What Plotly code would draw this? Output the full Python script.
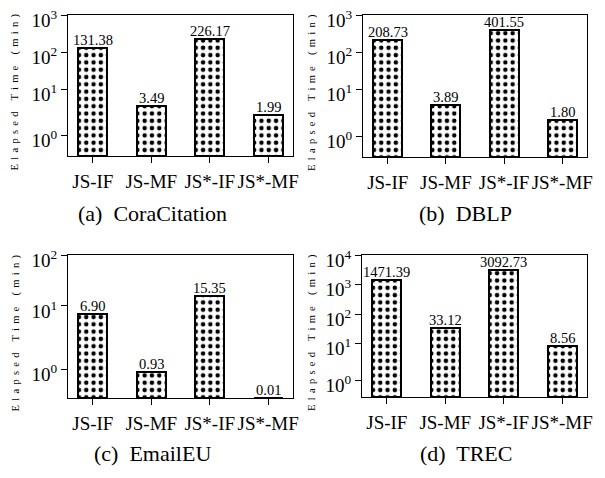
import numpy as np
import plotly.graph_objects as go
from plotly.subplots import make_subplots

# ---------------- data ----------------
methods = ["JS-IF", "JS-MF", "JS*-IF", "JS*-MF"]
cora_citation = [131.38, 3.49, 226.17, 1.99]
dblp = [208.73, 3.89, 401.55, 1.80]
email_eu = [6.90, 0.93, 15.35, 0.01]
trec = [1471.39, 33.12, 3092.73, 8.56]
panel_titles = ["(a)\u00a0 CoraCitation", "(b)\u00a0 DBLP", "(c)\u00a0 EmailEU", "(d)\u00a0 TREC"]
y_top_exponents = [3, 3, 2, 4]
y_title = "Elapsed Time (min)"

# symmetric-log scale (matplotlib 'symlog', linthresh=2, linscale=1)
LINTHRESH = 2.0
LINSCALE = 1.0


def symlog(v):
    v = np.asarray(v, dtype=float)
    adj = LINSCALE / (1.0 - 1.0 / 10.0)
    out = np.where(
        np.abs(v) <= LINTHRESH,
        v * adj,
        np.sign(v) * LINTHRESH * (adj + np.log10(np.maximum(np.abs(v), 1e-12) / LINTHRESH)),
    )
    return out


SERIF = "Liberation Serif"
PAGE_W, PAGE_H = 605, 478
OFF = 8  # default page body margin
W, H = PAGE_W - OFF, PAGE_H - OFF


def px(x):
    return (x - OFF) / W


def py(y):
    return 1 - (y - OFF) / H


fig = make_subplots(rows=2, cols=2)

panels = [cora_citation, dblp, email_eu, trec]
# plot-area boxes in page pixels: (left, right, top, bottom)
boxes = [(68, 293, 15, 156), (363, 587, 15, 157), (68, 293, 255, 398), (362, 587, 255, 397)]
ytitle_x = [15, 312, 15, 312]
caption_xy = [(152, 213), (465, 213), (152, 453), (466, 453)]

for i, vals in enumerate(panels):
    r, c = i // 2 + 1, i % 2 + 1
    ys = symlog(vals)
    fig.add_trace(
        go.Bar(
            x=methods,
            y=ys,
            width=0.5,
            cliponaxis=False,
            marker=dict(
                color="white",
                line=dict(color="black", width=2),
                pattern=dict(shape=".", fgcolor="black", bgcolor="white",
                             size=7.3, solidity=0.3, fillmode="replace"),
            ),
            showlegend=False,
            hoverinfo="skip",
        ),
        row=r, col=c,
    )
    ax_suffix = "" if i == 0 else str(i + 1)
    # value labels above bars
    for m, v, yv in zip(methods, vals, ys):
        fig.add_annotation(
            x=m, y=float(yv), xref="x" + ax_suffix, yref="y" + ax_suffix,
            text=f"{v:.2f}", showarrow=False,
            xanchor="center", yanchor="bottom", yshift=-2,
            font=dict(family=SERIF, size=14.5, color="black"),
        )
    L, R, T, B = boxes[i]
    top = y_top_exponents[i]
    fig.layout["xaxis" + ax_suffix].update(
        domain=[px(L), px(R)],
        range=[-0.425, 3.425],
        tickangle=0,
        automargin=False,
        showline=True, mirror=True, linecolor="black", linewidth=1.3,
        ticks="outside", ticklen=6, tickwidth=1.2, tickcolor="black",
        ticklabelstandoff=2,
        showgrid=False, zeroline=False,
        tickfont=dict(family=SERIF, size=19, color="black"),
    )
    tickv = [10.0 ** k for k in range(0, top + 1)]
    fig.layout["yaxis" + ax_suffix].update(
        domain=[py(B), py(T)],
        range=[0, float(symlog(10.0 ** top))],
        automargin=False,
        tickmode="array",
        tickvals=list(symlog(tickv)),
        ticktext=[f"10<sup>{k}</sup>" for k in range(0, top + 1)],
        ticklabeloverflow="allow",
        ticklabelshift=5,
        showline=True, mirror=True, linecolor="black", linewidth=1.3,
        ticks="outside", ticklen=6, tickwidth=1.2, tickcolor="black",
        showgrid=False, zeroline=False,
        tickfont=dict(family=SERIF, size=19, color="black"),
    )
    # y-axis title
    fig.add_annotation(
        x=px(ytitle_x[i]), y=py((T + B) / 2 + 5), xref="paper", yref="paper",
        text=f'<span style="letter-spacing:4.3px">{y_title}</span>',
        textangle=-90, showarrow=False,
        font=dict(family=SERIF, size=10.5, color="black"),
        xanchor="center", yanchor="middle",
    )
    # panel caption
    cx, cy = caption_xy[i]
    fig.add_annotation(
        x=px(cx), y=py(cy), xref="paper", yref="paper",
        text=panel_titles[i], showarrow=False,
        font=dict(family=SERIF, size=22, color="black"),
        xanchor="center", yanchor="middle",
    )

fig.update_layout(
    width=W, height=H,
    margin=dict(l=0, r=0, t=0, b=0, autoexpand=False),
    paper_bgcolor="white", plot_bgcolor="white",
    bargap=0,
)

fig.write_html("out.html")
